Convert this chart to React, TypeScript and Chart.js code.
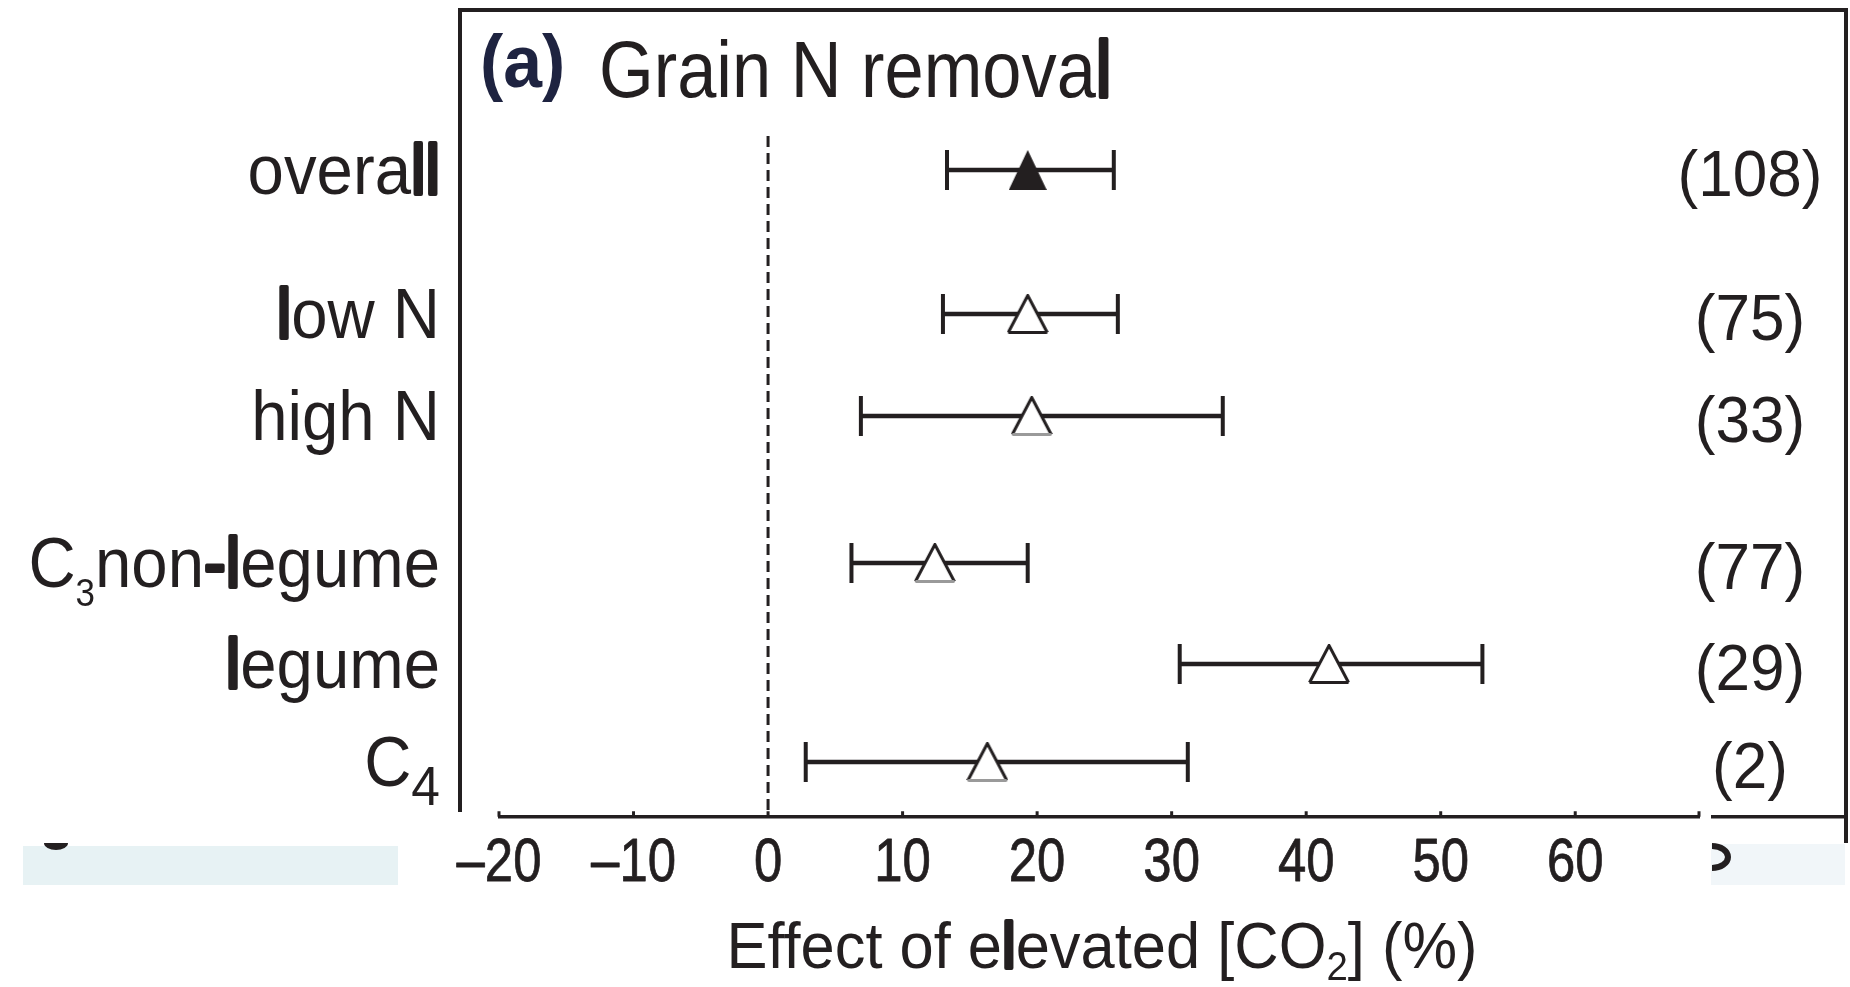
import React, { useEffect, useRef } from 'react';
import { Chart, registerables } from 'chart.js';

Chart.register(...registerables);

// ---------- data ----------
const CATEGORIES = ['overall', 'low N', 'high N', 'C_3non-legume', 'legume', 'C_4'];
const MEAN = [19.3, 19.3, 19.6, 12.4, 41.7, 16.3];
const CI_LOW = [13.3, 13.0, 6.9, 6.2, 30.6, 2.8];
const CI_HIGH = [25.7, 26.0, 33.8, 19.3, 53.1, 31.2];
const COUNTS = ['(108)', '(75)', '(33)', '(77)', '(29)', '(2)'];
const X_TICKS = [-20, -10, 0, 10, 20, 30, 40, 50, 60];
const TITLE_TAG = '(a)';
const TITLE = 'Grain N removal';
const X_TITLE = 'Effect of elevated [CO_2] (%)';

// ---------- layout / style ----------
const ROW_POS = [0, 1.44, 2.46, 3.93, 4.94, 5.92];
const FILLED = [true, false, false, false, false, false];
const GREY_BASE = [false, false, true, true, false, true];
const SUB_STYLE = [null, null, null, { size: 38, dy: 19 }, null, { size: 56, dy: 19 }];
const X_MIN = -20;
const X_MAX = 69.2;
const Y_MIN = -0.34;
const Y_MAX = 6.45;
const INK = '#231f20';
const FONT = '"Liberation Sans", Arial, Helvetica, sans-serif';

type Seg = { t: string; size: number; dy?: number; bold?: boolean };

function segFont(s: Seg) {
  return `${s.bold ? 'bold ' : ''}${s.size}px ${FONT}`;
}

function drawSegs(
  ctx: CanvasRenderingContext2D,
  segs: Seg[],
  x: number,
  y: number,
  align: 'left' | 'right' | 'center',
  sx: number,
  color: string,
  thick = 4,
  weight = 0
) {
  ctx.save();
  ctx.textBaseline = 'alphabetic';
  ctx.textAlign = 'left';
  let w = 0;
  for (const s of segs) {
    ctx.font = segFont(s);
    w += ctx.measureText(s.t).width;
  }
  w *= sx;
  const x0 = align === 'left' ? x : align === 'right' ? x - w : x - w / 2;
  ctx.translate(x0, y);
  ctx.scale(sx, 1);
  ctx.fillStyle = color;
  ctx.strokeStyle = color;
  ctx.lineJoin = 'round';
  let cx = 0;
  for (const s of segs) {
    ctx.font = segFont(s);
    const dy = s.dy || 0;
    ctx.fillText(s.t, cx, dy);
    if (weight > 0) {
      ctx.lineWidth = weight;
      ctx.strokeText(s.t, cx, dy);
    }
    if (thick > 0) {
      ctx.lineWidth = thick;
      for (let i = 0; i < s.t.length; i++) {
        const ch = s.t[i];
        if (ch === 'l' || ch === '-') {
          const off = ctx.measureText(s.t.slice(0, i)).width;
          ctx.strokeText(ch, cx + off, dy);
        }
      }
    }
    cx += ctx.measureText(s.t).width;
  }
  ctx.restore();
}

function parseLabel(label: string, size: number, sub: { size: number; dy: number } | null): Seg[] {
  const segs: Seg[] = [];
  const parts = label.split(/_(.)/);
  parts.forEach((p, i) => {
    if (!p) return;
    if (i % 2 === 1) segs.push({ t: p, size: sub ? sub.size : size * 0.6, dy: sub ? sub.dy : size * 0.2 });
    else segs.push({ t: p, size });
  });
  return segs;
}

function makeTriangle(filled: boolean, greyBase: boolean): HTMLCanvasElement {
  const c = document.createElement('canvas');
  if (filled) {
    c.width = 38;
    c.height = 40;
    const g = c.getContext('2d')!;
    g.beginPath();
    g.moveTo(19, 0);
    g.lineTo(38, 40);
    g.lineTo(0, 40);
    g.closePath();
    g.fillStyle = INK;
    g.fill();
    return c;
  }
  c.width = 42;
  c.height = 40;
  const g = c.getContext('2d')!;
  g.beginPath();
  g.moveTo(21, 1.5);
  g.lineTo(40.5, 38.5);
  g.lineTo(1.5, 38.5);
  g.closePath();
  g.fillStyle = '#ffffff';
  g.fill();
  g.lineWidth = 3;
  g.lineJoin = 'miter';
  g.strokeStyle = INK;
  g.beginPath();
  g.moveTo(1.5, 38.5);
  g.lineTo(21, 1.5);
  g.lineTo(40.5, 38.5);
  g.stroke();
  g.strokeStyle = greyBase ? '#9a9a9a' : INK;
  g.beginPath();
  g.moveTo(40.5, 38.5);
  g.lineTo(1.5, 38.5);
  g.stroke();
  return c;
}

const decorPlugin = {
  id: 'decor',
  beforeDraw(chart: any) {
    const ctx: CanvasRenderingContext2D = chart.ctx;
    ctx.save();
    ctx.fillStyle = '#ffffff';
    ctx.fillRect(0, 0, chart.width, chart.height);
    ctx.restore();
  },
  afterDraw(chart: any) {
    const ctx: CanvasRenderingContext2D = chart.ctx;
    const xs = chart.scales.x;
    const ys = chart.scales.y;
    const area = chart.chartArea;
    ctx.save();
    ctx.fillStyle = INK;
    // frame pieces of the cropped figure
    ctx.fillRect(458, 8, 1390, 4);
    ctx.fillRect(458, 8, 4, 804);
    ctx.fillRect(1844, 8, 4, 835);
    ctx.fillRect(1711, 815, 135, 3.5);

    // x axis line and inward ticks
    const axY = area.bottom + 1.75;
    ctx.strokeStyle = INK;
    ctx.lineWidth = 3.5;
    ctx.beginPath();
    ctx.moveTo(xs.getPixelForValue(X_MIN) - 1, axY);
    ctx.lineTo(xs.getPixelForValue(X_MAX) + 1, axY);
    ctx.stroke();
    ctx.lineWidth = 3;
    for (const v of [...X_TICKS, X_MAX]) {
      const px = xs.getPixelForValue(v);
      ctx.beginPath();
      ctx.moveTo(px, axY);
      ctx.lineTo(px, axY - 5.5);
      ctx.stroke();
    }

    // pale boxes at the bottom edge
    ctx.fillStyle = '#e7f2f4';
    ctx.fillRect(23, 846, 375, 39);
    ctx.fillStyle = '#f1f6f9';
    ctx.fillRect(1711, 844, 134, 41);
    ctx.fillStyle = INK;
    ctx.beginPath();
    ctx.ellipse(56, 843, 12, 7, 0, 0, Math.PI);
    ctx.fill();
    ctx.lineWidth = 6;
    ctx.beginPath();
    ctx.ellipse(1712, 857, 16, 11, 0, -Math.PI / 2, Math.PI / 2);
    ctx.stroke();
    ctx.restore();

    // tick labels
    for (const v of X_TICKS) {
      const lab = v < 0 ? '\u2013' + String(-v) : String(v);
      drawSegs(ctx, [{ t: lab, size: 62 }], xs.getPixelForValue(v), 881, 'center', 0.82, INK, 0, 0.8);
    }

    // x axis title
    drawSegs(ctx, parseLabel(X_TITLE, 64, { size: 40, dy: 12 }), 1102, 968, 'center', 0.96, INK, 4);

    // panel title
    drawSegs(ctx, [{ t: TITLE_TAG, size: 75, bold: true }], 480, 87, 'left', 0.93, '#1e2340', 0);
    drawSegs(ctx, [{ t: TITLE, size: 80 }], 599, 97, 'left', 0.88, INK, 4);

    // category labels and counts
    CATEGORIES.forEach((c, i) => {
      const py = ys.getPixelForValue(ROW_POS[i]);
      drawSegs(ctx, parseLabel(c, 71, SUB_STYLE[i]), 440, py + 24, 'right', 0.92, INK, 4);
      drawSegs(ctx, [{ t: COUNTS[i], size: 64 }], 1750, py + 26, 'center', 0.97, INK, 0);
    });
  },
};

export default function App() {
  const ref = useRef<HTMLCanvasElement>(null);
  useEffect(() => {
    document.body.style.margin = '0';
    const canvas = ref.current!;
    const triangles = CATEGORIES.map((_, i) => makeTriangle(FILLED[i], GREY_BASE[i]));

    const barSets = CATEGORIES.map((c, i) => ({
      label: c,
      data: [
        { x: CI_LOW[i], y: ROW_POS[i] },
        { x: CI_HIGH[i], y: ROW_POS[i] },
      ],
      showLine: true,
      borderColor: INK,
      borderWidth: 4.5,
      pointStyle: 'line',
      pointRotation: 90,
      pointRadius: 20,
      pointBorderWidth: 4,
      pointBorderColor: INK,
      pointBackgroundColor: INK,
    }));

    const chart = new Chart(canvas, {
      type: 'scatter',
      data: {
        datasets: [
          {
            label: 'mean',
            data: MEAN.map((m, i) => ({ x: m, y: ROW_POS[i] })),
            pointStyle: triangles as any,
            pointRadius: 20,
            showLine: false,
          },
          ...barSets,
          {
            label: 'zero',
            data: [
              { x: 0, y: Y_MIN },
              { x: 0, y: Y_MAX },
            ],
            showLine: true,
            borderColor: INK,
            borderWidth: 3,
            borderDash: [11, 6],
            pointRadius: 0,
          },
        ] as any,
      },
      options: {
        responsive: false,
        animation: false,
        events: [],
        layout: { padding: { left: 499, right: 151, top: 136, bottom: 172 } },
        scales: {
          x: { type: 'linear', min: X_MIN, max: X_MAX, display: false },
          y: { type: 'linear', min: Y_MIN, max: Y_MAX, reverse: true, display: false },
        },
        plugins: { legend: { display: false }, tooltip: { enabled: false } },
      },
      plugins: [decorPlugin],
    } as any);
    return () => chart.destroy();
  }, []);
  return <canvas ref={ref} width={1850} height={987} style={{ display: 'block' }} />;
}
